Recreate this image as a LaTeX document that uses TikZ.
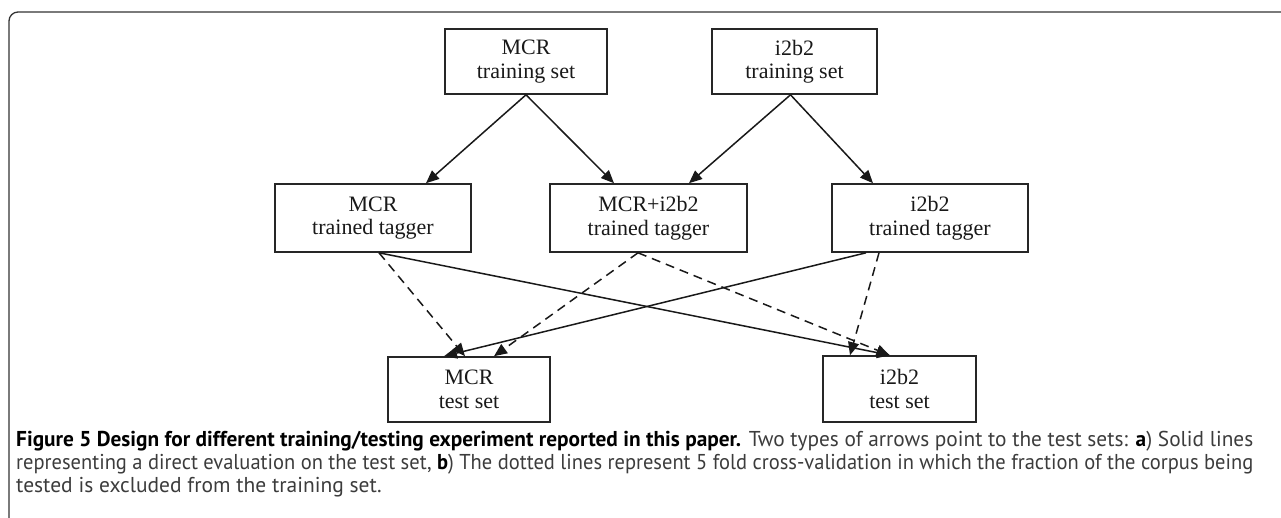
\documentclass[tikz,border=0pt]{standalone}
\usepackage{fontspec}
\usepackage{graphicx}
\setmainfont{Liberation Serif}
\newfontfamily\capfont{PT Sans}
\usetikzlibrary{arrows.meta}
\definecolor{capgray}{HTML}{3C3C3C}
\newsavebox\capbox
\newcommand\fitline[1]{\sbox\capbox{#1}\ifdim\wd\capbox>1237pt \resizebox{1237pt}{\height}{\usebox\capbox}\else\makebox[1237pt][s]{#1}\fi}
\tikzset{
  box/.style={draw=black!85, line width=1.6pt, inner sep=0pt, align=center,
    font=\fontsize{22}{23.5}\selectfont, text=black!90},
  conn/.style={line width=1.5pt, black!90, -{Triangle[length=13pt,width=11pt]}},
  dconn/.style={conn, dash pattern=on 9pt off 6pt},
  capline/.style={anchor=base west, inner sep=0pt, font=\capfont\fontsize{21.5}{23}\selectfont, text=capgray}
}
\begin{document}
\begin{tikzpicture}[x=1pt,y=-1pt]
\useasboundingbox (0,0) rectangle (1281,517);
% frame
\draw[line width=1.3pt, black!80, rounded corners=9pt] (9,520) |- (1285,12);

% nodes
\node[box, minimum width=162pt, minimum height=65pt] (mtrain) at (526,61.5) {MCR\\training set};
\node[box, minimum width=165pt, minimum height=65pt] (itrain) at (794.5,61.5) {i2b2\\training set};
\node[box, minimum width=196pt, minimum height=68pt] (mtag) at (373,218) {MCR\\trained tagger};
\node[box, minimum width=197pt, minimum height=68pt] (btag) at (648.5,218) {MCR+i2b2\\trained tagger};
\node[box, minimum width=196pt, minimum height=68pt] (itag) at (930,218) {i2b2\\trained tagger};
\node[box, minimum width=162pt, minimum height=65pt] (mtest) at (469,389.5) {MCR\\test set};
\node[box, minimum width=153pt, minimum height=66pt] (itest) at (899.5,389) {i2b2\\test set};

% training arrows
\draw[conn] (mtrain.south) -- ([xshift=53pt]mtag.north);
\draw[conn] (mtrain.south) -- ([xshift=-34.5pt]btag.north);
\draw[conn] ([xshift=-4pt]itrain.south) -- ([xshift=40.5pt]btag.north);
\draw[conn] ([xshift=-4pt]itrain.south) -- ([xshift=-57pt]itag.north);

% evaluation arrows
\draw[dconn] ([xshift=6pt]mtag.south) -- ([xshift=-4pt]mtest.north);
\draw[conn] ([xshift=6pt]mtag.south) -- ([xshift=-9.5pt]itest.north);
\draw[dconn] ([xshift=-10.5pt]btag.south) -- ([xshift=25pt]mtest.north);
\draw[dconn] ([xshift=-10.5pt]btag.south) -- ([xshift=-10pt]itest.north);
\draw[conn] ([xshift=-64pt]itag.south) -- ([xshift=-25pt]mtest.north);
\draw[dconn] ([xshift=-51pt]itag.south) -- ([xshift=-49.5pt]itest.north);

% caption
\node[capline] (cap1) at (16,446) {\fitline{\textbf{\color{black}Figure 5 Design for different training/testing experiment reported in this paper.} Two types of arrows point to the test sets: \textbf{\color{black}a}) Solid lines}};
\node[capline] (cap2) at (16,469) {\fitline{representing a direct evaluation on the test set, \textbf{\color{black}b}) The dotted lines represent 5 fold cross-validation in which the fraction of the corpus being}};
\node[capline] (cap3) at (16,492) {tested is excluded from the training set.};
\end{tikzpicture}
\end{document}
